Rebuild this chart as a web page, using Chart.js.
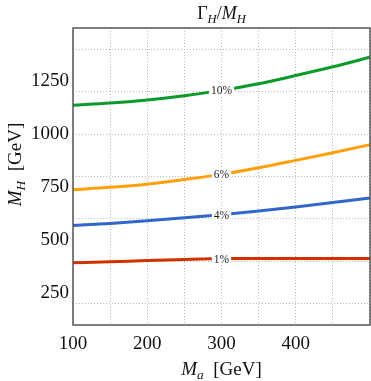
<!DOCTYPE html>
<html>
<head>
<meta charset="utf-8">
<script src="https://cdn.jsdelivr.net/npm/chart.js@4"></script>
<style>
  body { margin: 0; background: #fff; }
  #wrap { width: 371px; height: 381px; position: relative; }
</style>
</head>
<body>
<div id="wrap"><canvas id="myChart"></canvas></div>
<script>
// DATA
const maValues = [100, 150, 200, 250, 300, 350, 400, 450, 500];
const ratio1 = [393, 398, 404, 409, 413, 414, 414, 414, 414];
const ratio4 = [569, 579, 591, 605, 620, 637, 656, 677, 699];
const ratio6 = [738, 749, 764, 786, 810, 841, 876, 912, 950];
const ratio10 = [1136, 1146, 1161, 1181, 1206, 1237, 1276, 1317, 1362];
const contourLabels = ['1%', '4%', '6%', '10%'];
const labelAt = 300;

const xTickLabels = [100, 200, 300, 400];
const xGrid = [100, 150, 200, 250, 300, 350, 400, 450, 500];
const yTickLabels = [250, 500, 750, 1000, 1250];
const yGrid = [200, 400, 600, 800, 1000, 1200, 1400];

const colors = ['#cc3300', '#3366cc', '#ffa00a', '#0b9a2b'];
const serif = "'Liberation Serif', 'DejaVu Serif', serif";

const toPoints = (ys) => maValues.map((x, i) => ({ x: x, y: ys[i] }));

// rich text with subscripts
function drawRich(ctx, parts, size, x, y) {
  const fontOf = (p) => (p.italic ? 'italic ' : '') + (p.sub ? size * 0.7 : size) + 'px ' + serif;
  let total = 0;
  parts.forEach(p => { ctx.font = fontOf(p); total += ctx.measureText(p.t).width; });
  let cx = x - total / 2;
  ctx.textBaseline = 'alphabetic';
  ctx.textAlign = 'left';
  parts.forEach(p => {
    ctx.font = fontOf(p);
    ctx.fillText(p.t, cx, y + (p.sub ? size * 0.22 : 0));
    cx += ctx.measureText(p.t).width;
  });
}

const framePlugin = {
  id: 'frame',
  afterDatasetsDraw(chart) {
    const ctx = chart.ctx;
    // contour labels
    chart.data.datasets.forEach((ds, di) => {
      const meta = chart.getDatasetMeta(di);
      const idx = maValues.indexOf(labelAt);
      const pt = meta.data[idx];
      ctx.save();
      ctx.font = '11.5px ' + serif;
      const w = ctx.measureText(ds.label).width;
      ctx.fillStyle = '#fff';
      ctx.fillRect(pt.x - w / 2 - 2, pt.y - 5, w + 4, 10);
      ctx.fillStyle = '#222';
      ctx.textAlign = 'center';
      ctx.textBaseline = 'middle';
      ctx.fillText(ds.label, pt.x, pt.y + 1);
      ctx.restore();
    });
  },
  afterDraw(chart) {
    const ctx = chart.ctx;
    const a = chart.chartArea;
    ctx.save();
    ctx.strokeStyle = '#555';
    ctx.lineWidth = 1.5;
    ctx.strokeRect(a.left, a.top, a.right - a.left, a.bottom - a.top);
    ctx.fillStyle = '#111';
    const cx = (a.left + a.right) / 2;
    drawRich(ctx, [{ t: 'Γ' }, { t: 'H', italic: true, sub: true }, { t: '/' }, { t: 'M', italic: true }, { t: 'H', italic: true, sub: true }], 18, cx, 19);
    drawRich(ctx, [{ t: 'M', italic: true }, { t: 'a', italic: true, sub: true }, { t: '  [GeV]' }], 19, cx, 375);
    ctx.translate(21, (a.top + a.bottom) / 2 - 12);
    ctx.rotate(-Math.PI / 2);
    drawRich(ctx, [{ t: 'M', italic: true }, { t: 'H', italic: true, sub: true }, { t: '  [GeV]' }], 19, 0, 0);
    ctx.restore();
  }
};

const series = [ratio1, ratio4, ratio6, ratio10];

const data = {
  datasets: series.map((s, i) => ({
    label: contourLabels[i],
    data: toPoints(s),
    borderColor: colors[i],
    borderWidth: 3,
    pointRadius: 0,
    cubicInterpolationMode: 'monotone',
    fill: false,
  }))
};

const gridColor = (vals) => (c) => (c.tick && vals.includes(c.tick.value)) ? '#b8b8b8' : 'rgba(0,0,0,0)';

const config = {
  type: 'line',
  data,
  options: {
    responsive: true,
    maintainAspectRatio: false,
    animation: false,
    layout: { padding: { top: 28, right: 1, left: 0, bottom: 0 } },
    plugins: { legend: { display: false }, tooltip: { enabled: false } },
    scales: {
      x: {
        type: 'linear',
        min: 100,
        max: 500,
        afterBuildTicks: (s) => { s.ticks = xGrid.map(v => ({ value: v })); },
        afterFit: (s) => { s.height = 56; s.paddingRight = 0; s.paddingLeft = 0; },
        border: { display: false, dash: [1, 2] },
        grid: { color: gridColor(xGrid), lineWidth: 1, drawTicks: false },
        ticks: {
          autoSkip: false,
          maxRotation: 0,
          padding: 8,
          color: '#111',
          font: { family: serif, size: 19 },
          callback: (v) => xTickLabels.includes(v) ? String(v) : ''
        }
      },
      y: {
        type: 'linear',
        min: 100,
        max: 1500,
        afterBuildTicks: (s) => {
          const vals = [...new Set([...yGrid, ...yTickLabels])].sort((p, q) => p - q);
          s.ticks = vals.map(v => ({ value: v }));
        },
        afterFit: (s) => { s.width = 73; s.paddingTop = 0; s.paddingBottom = 0; },
        border: { display: false, dash: [1, 2] },
        grid: { color: gridColor(yGrid), lineWidth: 1, drawTicks: false },
        ticks: {
          autoSkip: false,
          padding: 4,
          color: '#111',
          font: { family: serif, size: 19 },
          callback: (v) => yTickLabels.includes(v) ? String(v) : ''
        }
      }
    }
  },
  plugins: [framePlugin]
};

Chart.defaults.font.family = serif;

var myChart = new Chart(document.getElementById('myChart'), config);
</script>
</body>
</html>
